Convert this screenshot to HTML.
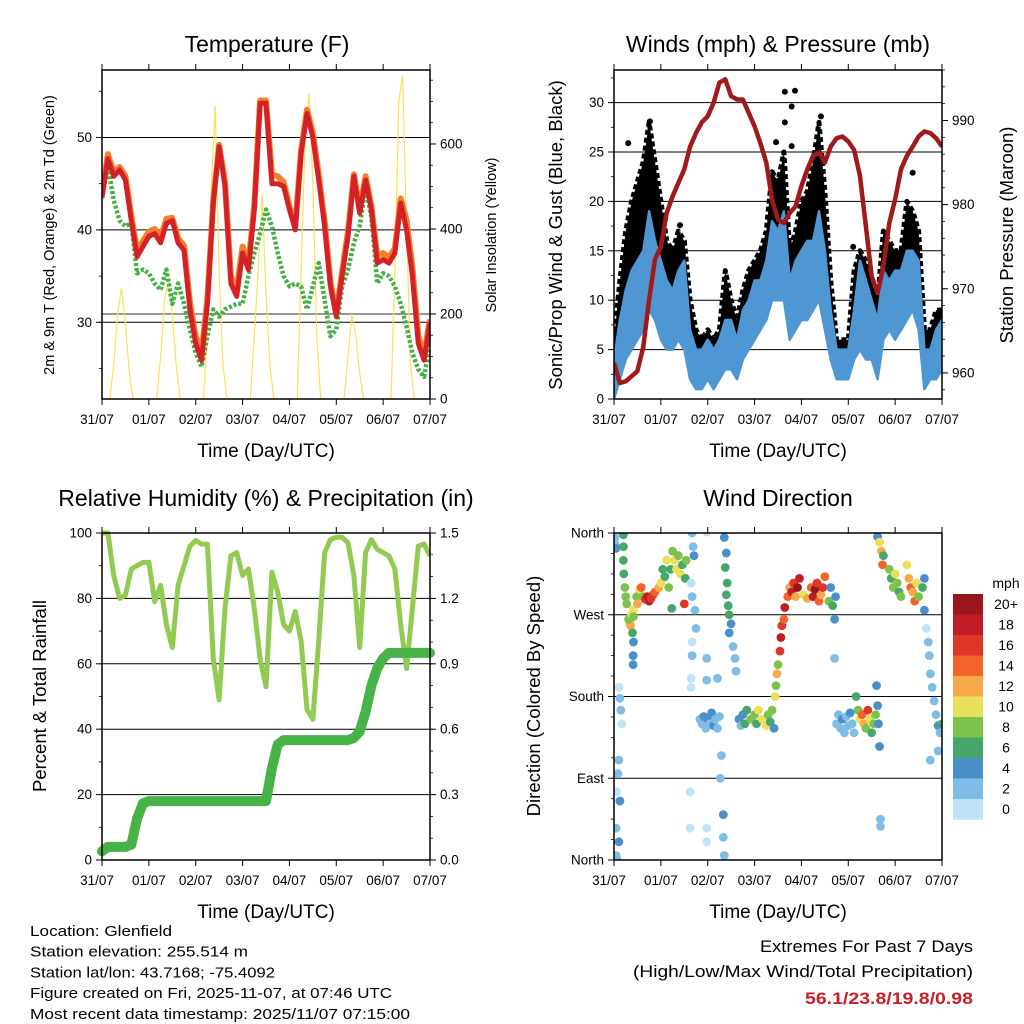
<!DOCTYPE html>
<html><head><meta charset="utf-8"><style>
html,body{margin:0;padding:0;background:#fff;}
svg{display:block;font-family:"Liberation Sans",sans-serif;}
</style></head><body>
<svg id="chart" width="1024" height="1024" viewBox="0 0 1024 1024"></svg>
<script>
// ---------- DATA (3-hourly, t = 0..168 h) ----------
const dayLabels = ["31/07","01/07","02/07","03/07","04/07","05/07","06/07","07/07"];
const temp2m = [43.6,47.7,45.8,46.5,45.4,41,37.1,38.2,39.3,39.6,38.6,40.7,41,38.6,37.8,31.4,27.7,25.9,32,42.9,49,44.7,34.2,32.8,37.5,35.7,42.2,53.7,53.7,45,45,44.7,42.2,40,48.3,52.6,50,45.4,40.4,33.9,30.6,35,39.3,45.8,41.8,45.4,42.2,36.4,36.8,36.4,37.5,42.9,40,35,27.7,25.9,30];
const temp9m = [43.8,48.2,46.2,46.8,45.8,41.5,37.8,38.8,39.8,40.1,39.2,41.2,41.3,39.1,38.3,32.2,28.5,26.8,32.5,43.2,49.2,45.2,35,33.6,38.2,36.3,42.6,54,54,46,45.8,45.2,42.6,40.4,48.6,53,50.5,46,41,34.4,31,35.5,39.8,46,42.2,45.8,42.6,37.2,37.5,37,38,43.4,41,36,28.5,26.6,30.3];
const dewpt = [43.4,47,43.2,41,40.4,40.7,35.3,35.7,35.3,34.2,33.5,35.7,32,34.2,32,29.2,26.7,25.2,28.5,31.4,30.6,31.4,31.7,32,32,35,37.5,39.6,42.2,40.4,37.5,35,33.9,34.2,33.9,31.4,33.9,36.4,32.4,28.5,29.2,33.9,35.7,38.6,40.4,44.7,41.4,34.2,35.3,35,33.9,32,29.5,26.7,24.9,24.1,27.7];
// solar: 2-hourly, t = 0..168
const solar = [0,0,0,80,200,260,180,60,0,0,0,0, 0,0,0,100,230,280,200,80,0,0,0,0, 0,0,0,150,500,690,300,80,0,0,0,0, 0,0,0,150,300,480,250,80,0,0,0,0, 0,0,0,300,600,720,500,150,0,0,0,0, 0,0,0,100,200,150,60,0,0,0,0,0, 0,0,0,300,700,760,400,80,0,0,0,0, 0];
const pressure = [961.2,958.8,959,959.6,960.2,963.1,968.7,973.5,975,979,981,982.6,984.2,986.9,988.5,989.8,990.5,992.1,994.5,994.9,992.9,992.5,992.5,990.9,989.3,987.3,985,980.6,978.2,977.8,979,979.8,982.2,984.2,985.8,986.2,985,986.9,987.9,988.1,987.5,986.5,983.4,977.4,971.5,969.5,972.7,977.8,980.6,984.2,985.8,986.9,988.1,988.7,988.5,987.9,986.9];
const windLow  = [0,2,4,5,6,7,9,8,6,5,5,6,5,2,1,1,2,1,2,3,3,2,4,5,6,7,8,10,10,10,6,7,8,8,9,10,7,4,2,2,2,4,5,4,4,2,6,7,6,7,8,9,7,1,2,2,3];
const windHigh = [4,8,11,13,14,15,19,16,14,12,11,13,14,7,5,5,6,5,6,8,8,6,9,10,12,12,14,18,17,19,12,14,15,16,16,19,15,9,5,5,5,9,14,12,10,8,13,12,13,13,15,15,14,5,5,7,8];
const gustLow  = [1,4,8,9,10,12,14,12,10,8,8,9,8,4,3,3,4,3,3,6,5,4,6,8,9,9,11,14,14,14,9,10,11,12,14,15,10,6,4,4,4,6,8,7,6,4,9,9,9,10,12,12,10,3,3,4,5];
const gustHigh = [6,12,17,20,22,24,28,24,20,16,15,17,16,10,7,6,7,6,7,13,10,8,11,13,14,15,17,23,22,25,15,17,20,21,24,28,21,12,6,6,6,13,15,14,12,10,17,16,15,15,20,19,17,7,7,9,9];
const gustOutT = [87.5,92.7,91,87.5,106,18.4,7.3,83,91,122.5,153,33.8];
const gustOutV = [31.1,31.2,29.6,28,28.6,28.1,25.9,26,25.6,15.4,22.9,17.6];
const rh = [100,100,87,80,81,89,90,91,91,79,84,72,65,84,90,96,97.7,96.6,96.6,61.5,49,77,93,94,87,89,77,61.5,53,88,82,72,70,76,67,46,43,67,94,98,98.7,98.7,97,87,65,94,98,95,94,93,89,72,58.5,77,96,96.6,93];
const precip = [0.04,0.06,0.06,0.06,0.06,0.07,0.19,0.26,0.27,0.27,0.27,0.27,0.27,0.27,0.27,0.27,0.27,0.27,0.27,0.27,0.27,0.27,0.27,0.27,0.27,0.27,0.27,0.27,0.27,0.42,0.53,0.55,0.55,0.55,0.55,0.55,0.55,0.55,0.55,0.55,0.55,0.55,0.55,0.56,0.59,0.68,0.80,0.88,0.925,0.95,0.95,0.95,0.95,0.95,0.95,0.95,0.95];
const dirT = [0.5,0.5,1,4.8,4.8,4.8,5,5.6,6,6.5,8,8.5,7.5,9,9.9,10,9.5,10,9.8,9.8,11.6,12,13,14,15,16,17,18,19,20,21,23,24,25,26,27,28,29,29.6,30,31,32,33,34,35,36,37,36.5,40,40.5,41,39.5,40,41.5,42,40,40,39.5,39.5,47.5,2.5,3,3.5,4,2.5,2,1.5,3,1,2.5,1,1.5,44,45,46,47,48,49,50,51,52,53,54,47.5,47.5,53,55,54.5,56,56,56.5,39,39,47.5,47.5,56.5,57.5,57,58,57.5,58.5,59,60,59,61,62,62.5,64,65,66,67,68,70,72,73,74,76,78,79,80,81,82,82.5,83,83.5,84,85,85.5,86,87,87.5,89,90,91,92,93,94,95,97,99,101,102,103,104,105,106,107,108,110,111,112,113,113,113.5,114,115,116,117,118,119,120,121,122,123,124,125,126,127,128,129,130,131,132,133,134,134.5,135,135.5,136,136.5,136.5,135,136,137,138,137.5,141,142,143,144,145,146,147,150,151,152,153,154,155,156,158,159,159,160,161,161.5,162,163,164,165,166,167,168,166,162];
const dirD = [355,348,343,358,345,330,315,300,290,282,262,258,265,270,275,268,250,240,225,215,290,282,298,300,290,287,290,285,288,292,295,300,305,320,312,330,300,320,277,340,330,320,335,315,325,282,330,310,360,345,335,305,290,275,255,240,225,200,190,361,190,178,165,150,110,95,75,65,35,20,5,1,155,150,158,145,155,150,162,148,155,145,158,222,198,200,115,90,50,25,5,75,35,35,20,355,338,322,305,292,280,270,260,250,235,222,208,155,148,160,150,165,155,160,150,165,155,148,160,152,165,145,180,192,205,215,230,245,258,265,278,290,300,295,305,290,300,310,292,288,300,290,298,305,285,292,300,312,285,300,280,265,222,290,150,160,145,155,140,158,148,162,150,140,180,165,155,160,150,145,165,155,140,150,160,192,170,150,125,45,37,356,350,340,335,325,320,310,300,315,305,295,290,325,310,300,295,285,305,290,300,310,275,255,240,225,205,190,175,160,148,140,150,120,110];
const dirS = [3,2,4,6,6,7,6,8,9,8,13,12,9,10,10,8,7,4,4,4,8,12,10,14,9,16,18,18,17,16,14,12,10,7,6,10,8,6,6,8,10,10,9,10,7,16,8,6,3,3,4,1,2,2,2,1,2,1,1,1,1,2,3,1,2,2,1,4,2,4,2,3,2,3,4,2,4,3,4,4,2,3,2,3,2,3,2,2,4,3,2,1,1,1,1,4,4,6,6,7,6,6,4,4,2,2,2,4,3,5,6,7,8,8,7,10,10,10,9,6,8,4,10,8,12,9,16,18,16,14,18,14,12,18,16,12,20,18,10,12,14,18,20,16,14,12,16,14,8,4,6,4,2,4,2,2,3,4,2,3,2,4,2,3,6,8,10,14,12,8,16,10,6,8,9,4,4,4,4,2,2,4,10,12,6,14,8,6,8,10,8,6,8,10,12,14,12,14,10,8,6,4,4,1,2,2,2,2,3,2,4,3,6,2,2];
const tempTicks = [30,40,50];
const solarTicks = [0,200,400,600];
const windTicks = [0,5,10,15,20,25,30];
const presTicks = [960,970,980,990];
const rhTicks = [0,20,40,60,80,100];
const pcpTicks = [0,0.3,0.6,0.9,1.2,1.5];
const pcpLabels = ["0.0","0.3","0.6","0.9","1.2","1.5"];
const dirTicks = [0,90,180,270,360];
const dirLabels = ["North","East","South","West","North"];
const speedBins = ["0","2","4","6","8","10","12","14","16","18","20+"];
const speedColors = ["#bfe3f6","#7fbce6","#4a8fc8","#47a76a","#7dc24c","#e8e05a","#f7a848","#f2652a","#e0362a","#c01c26","#9a161c"];

// ---------- HELPERS ----------
const NS = "http://www.w3.org/2000/svg";
const svg = document.getElementById("chart");
function mk(tag, attrs, parent) {
  const e = document.createElementNS(NS, tag);
  for (const k in attrs) e.setAttribute(k, attrs[k]);
  (parent || svg).appendChild(e);
  return e;
}
function txt(s, x, y, size, anchor, parent, extra) {
  const t = mk("text", Object.assign({x:x, y:y, "font-size":size, "text-anchor":anchor||"middle", fill:"#000"}, extra||{}), parent);
  t.textContent = s;
  return t;
}
const T = (i) => i * 3;
const T2 = (i) => i * 2;

function panel(name, x0, x1, y0, y1) {
  const g = mk("g", {});
  
  
  return {g, x0, x1, y0, y1, sx: (t) => x0 + t / 168 * (x1 - x0)};
}
function yScale(p, lo, hi) { return (v) => p.y1 - (v - lo) / (hi - lo) * (p.y1 - p.y0); }

function frame(p, prefix) {
  const b = mk("rect", {x:p.x0, y:p.y0, width:p.x1-p.x0, height:p.y1-p.y0, fill:"none", stroke:"#000", "stroke-width":1.5}, p.g);
  
  
  const xa = mk("g", {}, p.g);
  
  
  dayLabels.forEach((d, i) => {
    const x = p.sx(i * 24);
    mk("line", {x1:x, x2:x, y1:p.y1, y2:p.y1+6, stroke:"#000", "stroke-width":1}, xa);
    mk("line", {x1:x, x2:x, y1:p.y0, y2:p.y0-6, stroke:"#000", "stroke-width":1}, xa);
    const l = txt(d, x - (i === 0 ? 5 : 0), p.y1 + 25, 13.5, "middle", xa);
    
    
  });
  const xt = txt("Time (Day/UTC)", (p.x0 + p.x1) / 2, p.y1 + 58, 19, "middle", p.g);
  
  
}
function leftAxis(p, ys, ticks, labels, prefix, minorStep, lo, hi, grid) {
  const a = mk("g", {}, p.g);
  
  
  if (minorStep) for (let v = lo; v <= hi + 1e-9; v += minorStep) {
    const y = ys(v); if (y < p.y0 - 0.5 || y > p.y1 + 0.5) continue;
    mk("line", {x1:p.x0-3, x2:p.x0, y1:y, y2:y, stroke:"#000", "stroke-width":0.8}, a);
  }
  ticks.forEach((v, i) => {
    const y = ys(v);
    if (grid && y > p.y0 + 1 && y < p.y1 - 1) mk("line", {x1:p.x0, x2:p.x1, y1:y, y2:y, stroke:"#000", "stroke-width":1}, a);
    mk("line", {x1:p.x0-6, x2:p.x0, y1:y, y2:y, stroke:"#000", "stroke-width":1}, a);
    const l = txt(labels ? labels[i] : String(v), p.x0 - 10, y + 4.5, 13.5, "end", a);
    
    
  });
}
function rightAxis(p, ys, ticks, labels, prefix, minorStep, lo, hi) {
  const a = mk("g", {}, p.g);
  
  
  if (minorStep) for (let v = lo; v <= hi + 1e-9; v += minorStep) {
    const y = ys(v); if (y < p.y0 - 0.5 || y > p.y1 + 0.5) continue;
    mk("line", {x1:p.x1, x2:p.x1+3, y1:y, y2:y, stroke:"#000", "stroke-width":0.8}, a);
  }
  ticks.forEach((v, i) => {
    const y = ys(v);
    mk("line", {x1:p.x1, x2:p.x1+6, y1:y, y2:y, stroke:"#000", "stroke-width":1}, a);
    const l = txt(labels ? labels[i] : String(v), p.x1 + 10, y + 4.5, 13.5, "start", a);
    
    
  });
}
function vtitle(s, x, y, size, parent, name) {
  const t = txt(s, x, y, size, "middle", parent, {transform:`rotate(-90 ${x} ${y})`});
  
  
}
function title(s, x, y, name) {
  const t = txt(s, x, y, 23, "middle");
  
  
}
function linePath(arr, tf, sx, ys) {
  return arr.map((v, i) => (i ? "L" : "M") + sx(tf(i)).toFixed(1) + "," + ys(v).toFixed(1)).join("");
}
function bandPath(lo, hi, tf, sx, ys) {
  let d = hi.map((v, i) => (i ? "L" : "M") + sx(tf(i)).toFixed(1) + "," + ys(v).toFixed(1)).join("");
  for (let i = lo.length - 1; i >= 0; i--) d += "L" + sx(tf(i)).toFixed(1) + "," + ys(lo[i]).toFixed(1);
  return d + "Z";
}
function clip(p, id) {
  const cp = mk("clipPath", {id:id});
  mk("rect", {x:p.x0, y:p.y0, width:p.x1-p.x0, height:p.y1-p.y0}, cp);
  return "url(#" + id + ")";
}

// ---------- PANEL 1: TEMPERATURE ----------
title("Temperature (F)", 267, 52, "temperature-title");
const p1 = panel("temperature-panel", 102, 430, 70, 399);
const t1 = yScale(p1, 21.7, 57.3);
const s1 = yScale(p1, 0, 774);
leftAxis(p1, t1, tempTicks, null, "temperature", 5, 20, 57, true);
rightAxis(p1, s1, solarTicks, null, "solar", 50, 0, 750);
mk("line", {x1:p1.x0, x2:p1.x1, y1:s1(200), y2:s1(200), stroke:"#777", "stroke-width":1.5}, p1.g);
const c1 = clip(p1, "c1");
const gs = mk("g", {"clip-path":c1}, p1.g);
let e;
e = mk("path", {d:linePath(solar, T2, p1.sx, s1), fill:"none", stroke:"#f8e25a", "stroke-width":1.2}, gs);


e = mk("path", {d:linePath(dewpt, T, p1.sx, t1), fill:"none", stroke:"#45b045", "stroke-width":4.5, "stroke-dasharray":"3 2", "stroke-linejoin":"round"}, gs);


e = mk("path", {d:linePath(temp9m, T, p1.sx, t1), fill:"none", stroke:"#f47f2a", "stroke-width":6, "stroke-linejoin":"round"}, gs);


e = mk("path", {d:linePath(temp2m, T, p1.sx, t1), fill:"none", stroke:"#d42027", "stroke-width":5, "stroke-linejoin":"round"}, gs);


frame(p1, "temperature");
vtitle("2m & 9m T (Red, Orange) & 2m Td (Green)", 54, 235, 14.5, p1.g, "temperature-y-axis-title");
vtitle("Solar Insolation (Yellow)", 496, 235, 14.5, p1.g, "solar-y-axis-title");

// ---------- PANEL 2: WIND & PRESSURE ----------
title("Winds (mph) & Pressure (mb)", 778, 52, "winds-title");
const p2 = panel("winds-panel", 614, 942, 70, 399);
const w2 = yScale(p2, 0, 33.3);
const pr2 = yScale(p2, 956.9, 996);
leftAxis(p2, w2, windTicks, null, "wind", 2.5, 0, 33, true);
rightAxis(p2, pr2, presTicks, null, "pressure", 2, 956, 996);
const c2 = clip(p2, "c2");
const gw = mk("g", {"clip-path":c2}, p2.g);
e = mk("path", {d:bandPath(gustLow, gustHigh, T, p2.sx, w2), fill:"#000", stroke:"#000", "stroke-width":5, "stroke-linejoin":"round", "stroke-dasharray":"5 3"}, gw);


gustOutT.forEach((t, i) => {
  const d = mk("circle", {cx:p2.sx(t), cy:w2(gustOutV[i]), r:3, fill:"#000"}, gw);
  
  
});
e = mk("path", {d:bandPath(windLow, windHigh, T, p2.sx, w2), fill:"#4f97d3", stroke:"#4f97d3", "stroke-width":2.5, "stroke-linejoin":"round"}, gw);


e = mk("path", {d:linePath(pressure, T, p2.sx, pr2), fill:"none", stroke:"#a01a1c", "stroke-width":4.5, "stroke-linejoin":"round"}, gw);


frame(p2, "winds");
vtitle("Sonic/Prop Wind & Gust (Blue, Black)", 562, 235, 18.5, p2.g, "wind-y-axis-title");
vtitle("Station Pressure (Maroon)", 1013, 235, 18.5, p2.g, "pressure-y-axis-title");

// ---------- PANEL 3: RH & PRECIP ----------
title("Relative Humidity (%) & Precipitation (in)", 266, 506, "humidity-title");
const p3 = panel("humidity-panel", 102, 430, 533, 860);
const r3 = yScale(p3, 0, 100);
const q3 = yScale(p3, 0, 1.5);
leftAxis(p3, r3, rhTicks, null, "humidity", 10, 0, 100, true);
rightAxis(p3, q3, pcpTicks, pcpLabels, "precip", 0.1, 0, 1.5);
const gr = mk("g", {}, p3.g);
e = mk("path", {d:linePath(rh, T, p3.sx, r3), fill:"none", stroke:"#92cb52", "stroke-width":5, "stroke-linejoin":"round"}, gr);


e = mk("path", {d:linePath(precip, T, p3.sx, q3), fill:"none", stroke:"#47b347", "stroke-width":10, "stroke-linejoin":"round", "stroke-linecap":"round"}, gr);


frame(p3, "humidity");
vtitle("Percent & Total Rainfall", 46, 696, 18.5, p3.g, "humidity-y-axis-title");

// ---------- PANEL 4: WIND DIRECTION ----------
title("Wind Direction", 778, 506, "wind-direction-title");
const p4 = panel("wind-direction-panel", 614, 942, 533, 860);
const d4 = yScale(p4, 0, 360);
leftAxis(p4, d4, dirTicks, dirLabels, "direction", 22.5, 0, 360, true);
const gd = mk("g", {"clip-path":clip(p4, "c4")}, p4.g);
dirT.forEach((t, i) => {
  const bin = Math.max(0, Math.min(10, Math.floor(dirS[i] / 2)));
  const c = mk("circle", {cx:p4.sx(t).toFixed(1), cy:d4(dirD[i]).toFixed(1), r:4.4, fill:speedColors[bin]}, gd);
  
  
});
frame(p4, "wind-direction");
vtitle("Direction (Colored By Speed)", 540, 696, 18.5, p4.g, "direction-y-axis-title");

// colorbar
const cb = mk("g", {});


const cbTop = 594, cbH = 20.5;
const unit = txt("mph", 1006, 588, 14, "middle", cb);


for (let k = 0; k < speedBins.length; k++) {
  const idx = speedBins.length - 1 - k;
  const r = mk("rect", {x:953, y:cbTop + k * cbH, width:30, height:cbH + 0.3, fill:speedColors[idx]}, cb);
  
  
  const l = txt(speedBins[idx], 1006, cbTop + k * cbH + 15, 14, "middle", cb);
  
  
}

// ---------- FOOTER ----------
const info = ["Location: Glenfield","Station elevation: 255.514 m","Station lat/lon: 43.7168; -75.4092","Figure created on Fri, 2025-11-07, at 07:46 UTC","Most recent data timestamp: 2025/11/07 07:15:00"];
const infoW = [142,218,245,362,380];
const fi = mk("g", {});


info.forEach((s, i) => {
  const t = txt(s, 30, 936 + i * 20.7, 14.5, "start", fi, {textLength:infoW[i], lengthAdjust:"spacingAndGlyphs"});
  
  
});
const ex = mk("g", {});


let x1 = txt("Extremes For Past 7 Days", 973, 952, 16.5, "end", ex, {textLength:213, lengthAdjust:"spacingAndGlyphs"});


x1 = txt("(High/Low/Max Wind/Total Precipitation)", 973, 977, 16.5, "end", ex, {textLength:340, lengthAdjust:"spacingAndGlyphs"});


x1 = txt("56.1/23.8/19.8/0.98", 973, 1004, 16.5, "end", ex, {fill:"#c8202a", "font-weight":"bold", textLength:168, lengthAdjust:"spacingAndGlyphs"});


</script>
</body></html>
